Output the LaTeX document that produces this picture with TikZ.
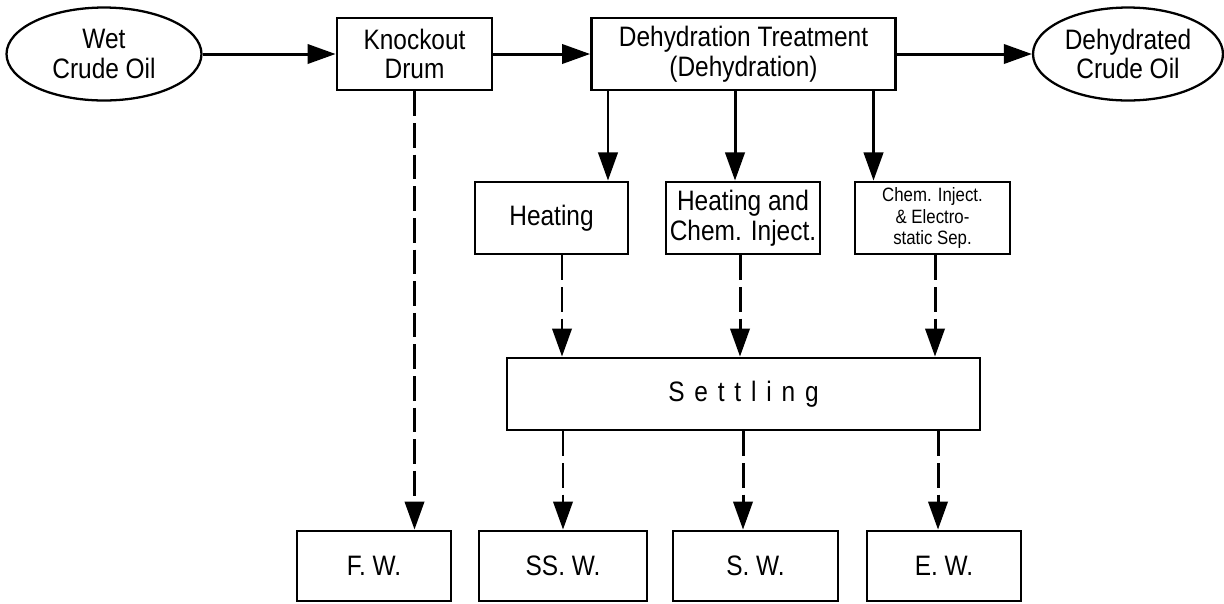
\documentclass[tikz,border=0pt]{standalone}
\usepackage{fontspec}
\setmainfont{Liberation Sans}[FakeStretch=0.87]
\usetikzlibrary{arrows.meta}
\usetikzlibrary{shapes.geometric}

\tikzset{
  unit/.style={draw, line width=1.6pt, inner sep=0pt, minimum height=1.44cm,
    align=center, font=\fontsize{16}{17}\selectfont},
  stream/.style={draw, ellipse, line width=1.3pt, inner sep=0pt,
    minimum width=3.9cm, minimum height=1.86cm, align=center,
    font=\fontsize{16}{17}\selectfont},
  oilflow/.style={line width=1.7pt, -{Triangle[length=16pt,width=11pt]}},
  waterflow/.style={oilflow, dash pattern=on 14pt off 4pt},
}

\begin{document}
\begin{tikzpicture}[x=0.02cm, y=-0.02cm]
            \useasboundingbox (0,0) rectangle (1224,603);

            % Oil path
            \node[stream] (wet) at (104,54) {Wet\\Crude Oil};
            \node[unit, minimum width=3.1cm] (knock) at (414.5,54) {Knockout\\Drum};
            \node[unit, minimum width=6.08cm] (dehy) at (743.5,54) {Dehydration Treatment\\(Dehydration)};
            \node[stream, minimum width=3.8cm] (dry) at (1128,54) {Dehydrated\\Crude Oil};

            % Treatment methods
            \node[unit, minimum width=3.06cm] (heat) at (551.5,218) {Heating};
            \node[unit, minimum width=3.08cm] (heatchem) at (743,218) {Heating and\\Chem. Inject.};
            \node[unit, minimum width=3.1cm, font=\fontsize{11}{12.5}\selectfont] (chemsep) at (932.5,218) {Chem. Inject.\\\& Electro-\\static Sep.};

            \node[unit, minimum width=9.46cm] (settle) at (743.5,394) {\addfontfeatures{LetterSpace=35}Settling};

            % Separated water
            \node[unit, minimum width=3.08cm, minimum height=1.4cm] (fw) at (374,566) {F. W.};
            \node[unit, minimum width=3.36cm, minimum height=1.4cm] (ssw) at (563,566) {SS. W.};
            \node[unit, minimum width=3.3cm, minimum height=1.4cm] (sw) at (755.5,566) {S. W.};
            \node[unit, minimum width=3.08cm, minimum height=1.4cm] (ew) at (944,566) {E. W.};

            \draw[oilflow] (wet.east) -- (knock.west);
            \draw[oilflow] (knock.east) -- (dehy.west);
            \draw[oilflow] (dehy.east) -- (dry.west);
            \draw[waterflow] (knock.south) -- (knock.south |- fw.north);

            \foreach \n/\dx in {heat/1.13, heatchem/-0.16, chemsep/-1.18} {
                \coordinate (top) at ([xshift=\dx cm]\n.north);
                \draw[oilflow] (dehy.south -| top) -- (top);
            }
            \foreach \n/\dx in {heat/0.21, heatchem/-0.06, chemsep/0.05} {
                \coordinate (out) at ([xshift=\dx cm]\n.south);
                \draw[waterflow] (out) -- (out |- settle.north);
            }
            \foreach \n/\dx in {ssw/0, sw/-0.25, ew/-0.12} {
                \coordinate (drain) at ([xshift=\dx cm]\n.north);
                \draw[waterflow] (settle.south -| drain) -- (drain);
            }
        \end{tikzpicture}
\end{document}
